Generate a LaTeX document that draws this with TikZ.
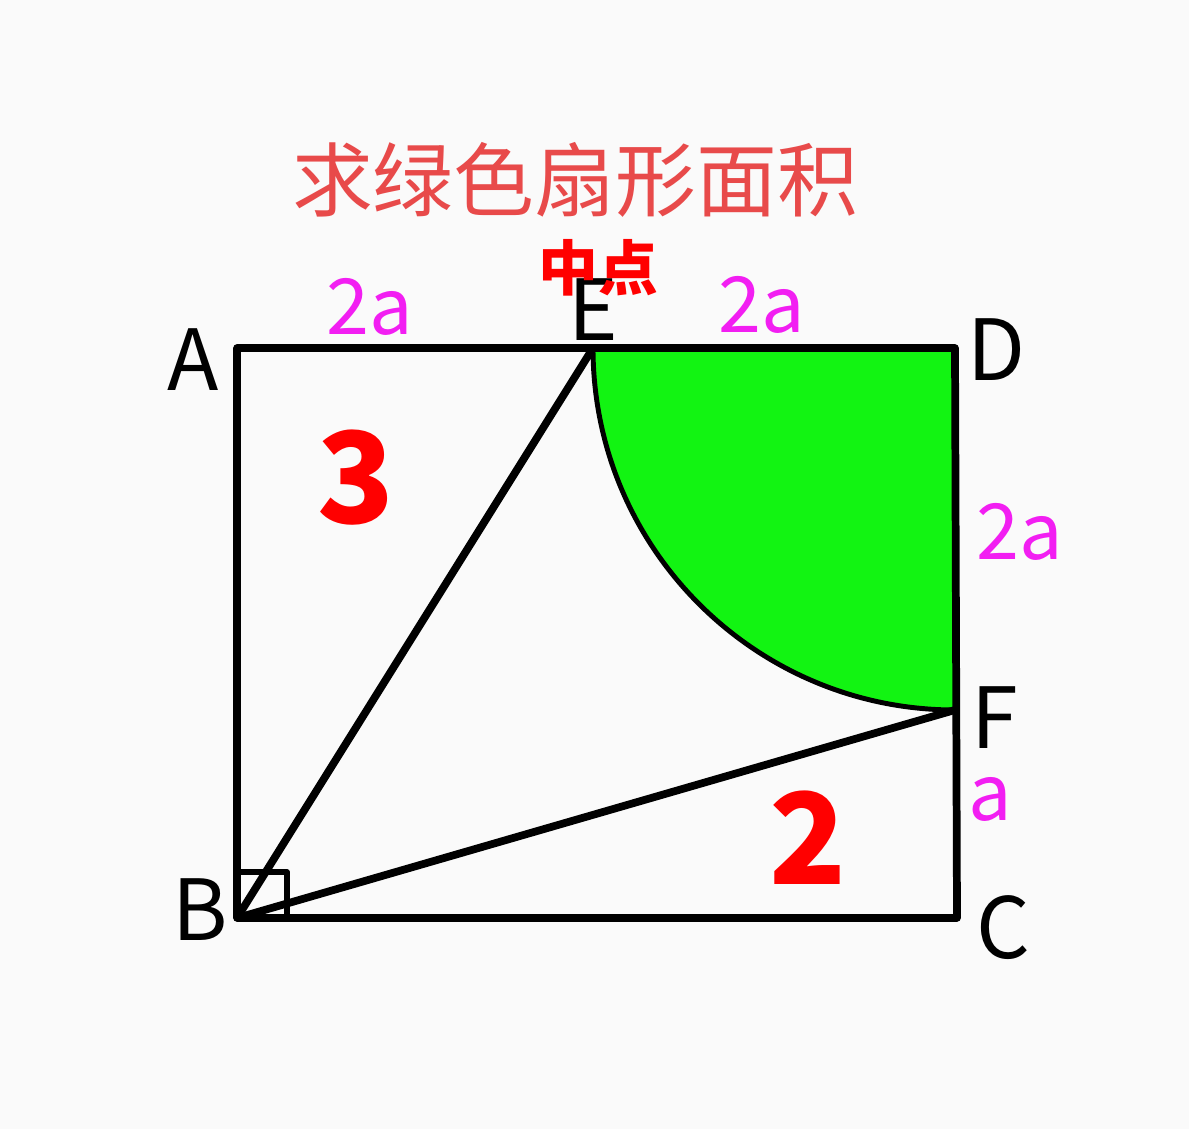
\documentclass[tikz,border=0pt]{standalone}
\usepackage{fontspec}
\setmainfont{Noto Sans CJK SC}
\usepackage{tikz}
\usetikzlibrary{positioning}

\definecolor{titlered}{HTML}{E84A4A}
\definecolor{sectorgreen}{HTML}{12F412}
\definecolor{lenpink}{HTML}{F21EF2}
\definecolor{paper}{HTML}{FAFAFA}

\begin{document}
\begin{tikzpicture}[line width=2.2pt,line join=round,
	pt/.style={font=\fontsize{24}{26}\selectfont,inner sep=0pt},
	len/.style={text=lenpink,font=\fontsize{22}{24}\selectfont,inner sep=0pt},
	area/.style={text=red,font=\fontsize{36}{38}\selectfont\bfseries,inner sep=0pt}]
	
	\fill [paper] (0,0) rectangle (11.89,11.29);
	\useasboundingbox (0,0) rectangle (11.89,11.29);
	
	\coordinate (A) at (2.37,7.81);
	\coordinate (D) at (9.55,7.81);
	\coordinate (C) at (9.57,2.11);
	\coordinate (B) at (2.37,2.11);
	\coordinate (E) at (5.93,7.81);
	\coordinate (F) at (9.55,4.19);
	
	% green quarter circle
	\fill [sectorgreen] (D) -- (E) arc [start angle=180, end angle=270, radius=3.62] -- cycle;
	\draw [line width=1.4pt] (E) arc [start angle=180, end angle=270, radius=3.62];
	
	\draw (A) -- (D) -- (C) -- (B) -- cycle;
	\draw (B) -- (E);
	\draw (B) -- (F);
	\draw [line width=1.6pt] (B) rectangle ++(0.5,0.46);
	
	\node (lA) [pt] at (1.93,7.69) {A};
	\node (lB) [pt] at (2.00,2.19) {B};
	\node (lC) [pt] at (10.03,2.01) {C};
	\node (lD) [pt] at (9.97,7.79) {D};
	\node (lE) [pt] at (5.93,8.19) {E};
	\node (lF) [pt] at (9.95,4.11) {F};
	
	\node (mid) [text=red,font=\fontsize{17}{19}\selectfont\bfseries,inner sep=0pt] at (5.98,8.61) {中点};
	\node (title) [text=titlered,font=\fontsize{23}{26}\selectfont,inner sep=0pt] at (5.75,9.49) {求绿色扇形面积};
	
	\node (AE) [len] at (3.70,8.22) {2a};
	\node (ED) [len] at (7.62,8.24) {2a};
	\node (DF) [len] at (10.20,5.97) {2a};
	\node (FC) [len] at (9.90,3.30) {a};
	
	\node (s3) [area] at (3.56,6.51) {3};
	\node (s2) [area] at (8.08,2.91) {2};
\end{tikzpicture}
\end{document}
